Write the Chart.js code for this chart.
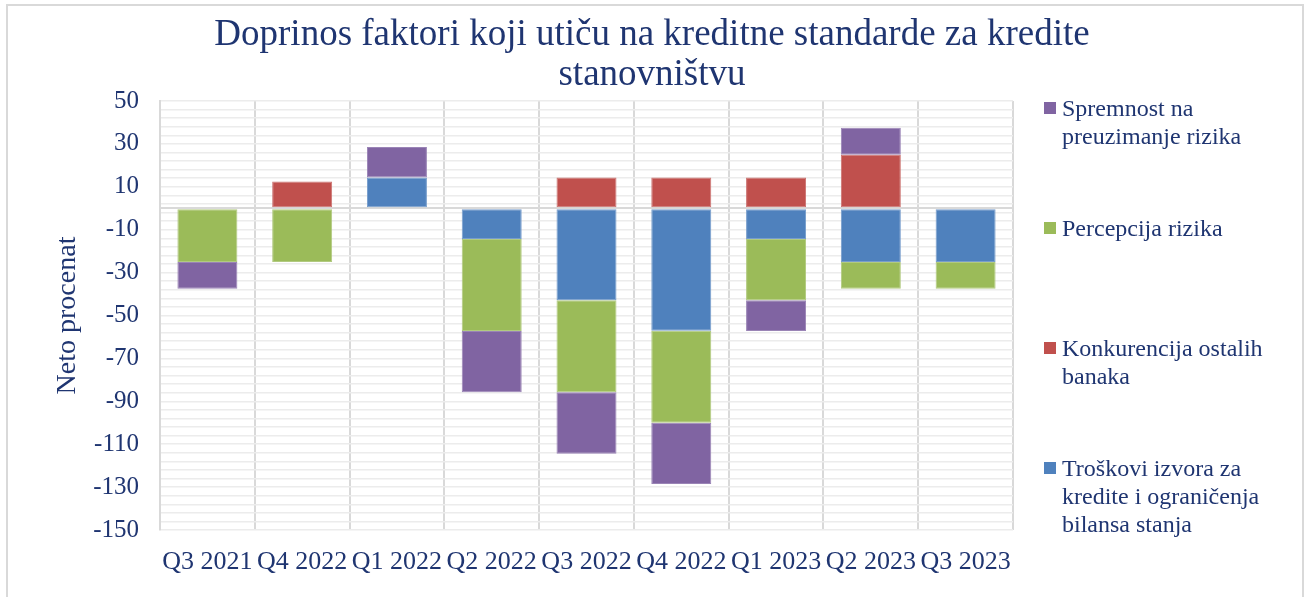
<!DOCTYPE html>
<html>
<head>
<meta charset="utf-8">
<script src="https://cdn.jsdelivr.net/npm/chart.js@4"></script>
<style>
  html, body { margin: 0; padding: 0; background: #fff; }
  #wrap { position: relative; width: 1304px; height: 597px; overflow: hidden; }
  #frame { position: absolute; left: 6px; top: 4px; width: 1294px; height: 620px; border: 2px solid #d9d9d9; }
  #chart { position: absolute; left: 0; top: 0; }
  .legend-item { position: absolute; left: 1044px; font-family: "Liberation Serif", "Times New Roman", serif;
    font-size: 24px; line-height: 28px; color: #1f3571; white-space: pre-line; padding-left: 18px; }
  .legend-item span { position: absolute; left: 0; top: 8px; width: 12px; height: 12px; }
</style>
</head>
<body>
<div id="wrap">
  <div id="frame"></div>
  <canvas id="chart" width="1304" height="597"></canvas>
  <div id="legend"></div>
</div>
<script>
const categories = ['Q3 2021', 'Q4 2022', 'Q1 2022', 'Q2 2022', 'Q3 2022', 'Q4 2022', 'Q1 2023', 'Q2 2023', 'Q3 2023'];

// stacking order from zero outwards
const troskovi     = [0, 0, 14.3, -14.3, -42.9, -57.1, -14.3, -25, -25];
const konkurencija = [0, 12.5, 0, 0, 14.3, 14.3, 14.3, 25, 0];
const percepcija   = [-25, -25, 0, -42.9, -42.9, -42.9, -28.6, -12.5, -12.5];
const spremnost    = [-12.5, 0, 14.3, -28.6, -28.6, -28.6, -14.3, 12.5, 0];

const seriesNames = [
    'Troškovi izvora za\nkredite i ograničenja\nbilansa stanja',
    'Konkurencija ostalih\nbanaka',
    'Percepcija rizika',
    'Spremnost na\npreuzimanje rizika'
];

const yMin = -150;
const yMax = 50;
const yLabelStep = 20;
const yGridStep = 4;

const navy = '#1f3571';
const serif = '"Liberation Serif", "Times New Roman", serif';

function makeSet(label, data, color, edge) {
    return {
        label: label,
        data: data,
        backgroundColor: color,
        borderColor: edge,
        borderWidth: ctx => (ctx.raw ? 1 : 0),
        borderSkipped: false,
        barPercentage: 0.633,
        categoryPercentage: 1
    };
}

const ctx = document.getElementById('chart').getContext('2d');
const chart = new Chart(ctx, {
    type: 'bar',
    data: {
        labels: categories,
        datasets: [
            makeSet(seriesNames[0], troskovi, '#4f81bd', '#779dcc'),
            makeSet(seriesNames[1], konkurencija, '#c0504d', '#cc7371'),
            makeSet(seriesNames[2], percepcija, '#9bbb59', '#b1ca7f'),
            makeSet(seriesNames[3], spremnost, '#8064a2', '#9a84b6')
        ]
    },
    options: {
        responsive: false,
        animation: false,
        layout: {
            padding: { left: 0, right: 0, top: 0, bottom: 0 }
        },
        plugins: {
            legend: { display: false },
            tooltip: { enabled: false },
            title: {
                display: true,
                text: ['Doprinos faktori koji utiču na kreditne standarde za kredite', 'stanovništvu'],
                color: navy,
                font: { family: serif, size: 37, weight: 'normal', lineHeight: '40px' },
                padding: { top: 15, bottom: 6 }
            }
        },
        scales: {
            x: {
                stacked: true,
                afterFit: scale => { scale.height = 67; },
                grid: { offset: true, color: '#d9d9d9', lineWidth: 2, drawTicks: false },
                border: { display: false },
                ticks: {
                    autoSkip: false,
                    maxRotation: 0,
                    color: navy,
                    padding: 17,
                    font: { family: serif, size: 26 }
                }
            },
            y: {
                stacked: true,
                min: yMin,
                max: yMax,
                afterFit: scale => { scale.width = 160; },
                afterBuildTicks: scale => {
                    scale.ticks.push({ value: 0 });
                    scale.ticks.sort((a, b) => a.value - b.value);
                },
                grid: {
                    drawTicks: false,
                    color: c => (c.tick && c.tick.value === 0 ? '#d9d9d9' : '#ececec'),
                    lineWidth: c => (c.tick && c.tick.value === 0 ? 2 : 1.5)
                },
                border: { display: true, color: '#d9d9d9', width: 2 },
                ticks: {
                    stepSize: yGridStep,
                    autoSkip: false,
                    color: navy,
                    padding: 21,
                    font: { family: serif, size: 25 },
                    callback: v => (v !== 0 && Math.round(v - yMax) % yLabelStep === 0 ? Math.round(v) : '')
                },
                title: {
                    display: true,
                    text: 'Neto procenat',
                    color: navy,
                    font: { family: serif, size: 28 },
                    padding: { top: 51, bottom: 0 }
                }
            },
            // empty space on the right for the legend
            legendSpace: {
                type: 'linear',
                position: 'right',
                afterFit: scale => { scale.width = 291; },
                grid: { display: false },
                border: { display: false },
                ticks: { display: false }
            }
        }
    }
});

// legend on the right, reversed like the original
const legend = document.getElementById('legend');
const sets = chart.data.datasets.slice().reverse();
sets.forEach((ds, i) => {
    const item = document.createElement('div');
    item.className = 'legend-item';
    item.style.top = (94 + i * 120) + 'px';
    const box = document.createElement('span');
    box.style.background = ds.backgroundColor;
    item.appendChild(box);
    item.appendChild(document.createTextNode(ds.label));
    legend.appendChild(item);
});
</script>
</body>
</html>
